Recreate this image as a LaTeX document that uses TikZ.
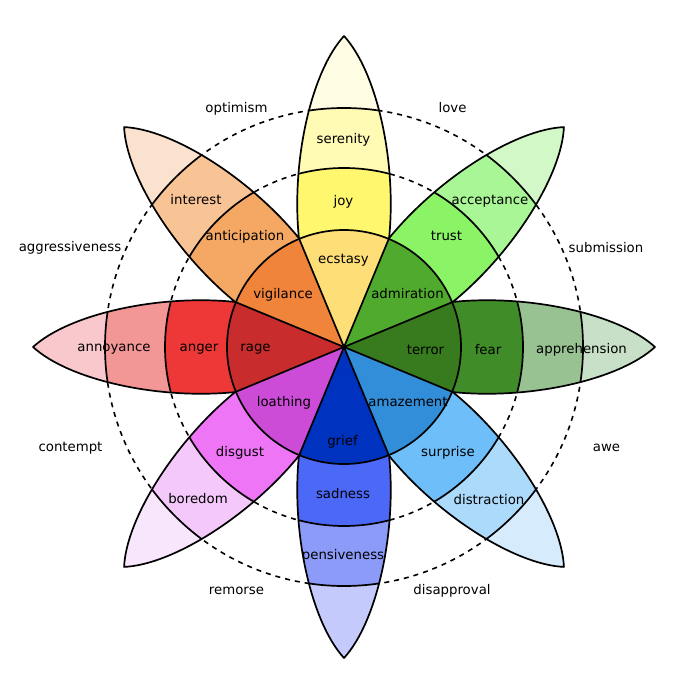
\documentclass[tikz,border=0pt]{standalone}
\usepackage{fontspec}
\setmainfont{DejaVu Sans}
\definecolor{pY}{RGB}{255,253,228}\definecolor{tY}{RGB}{255,250,180}\definecolor{sY}{RGB}{255,248,110}\definecolor{iY}{RGB}{254,222,118}
\definecolor{pG}{RGB}{210,248,200}\definecolor{tG}{RGB}{168,246,150}\definecolor{sG}{RGB}{138,244,102}\definecolor{iG}{RGB}{80,170,46}
\definecolor{pF}{RGB}{200,224,200}\definecolor{tF}{RGB}{152,194,146}\definecolor{sF}{RGB}{64,140,40}\definecolor{iF}{RGB}{56,122,30}
\definecolor{pB}{RGB}{214,236,252}\definecolor{tB}{RGB}{172,218,250}\definecolor{sB}{RGB}{110,190,250}\definecolor{iB}{RGB}{50,142,216}
\definecolor{pS}{RGB}{196,202,252}\definecolor{tS}{RGB}{140,154,248}\definecolor{sS}{RGB}{76,104,246}\definecolor{iS}{RGB}{0,50,192}
\definecolor{pD}{RGB}{248,230,252}\definecolor{tD}{RGB}{244,200,250}\definecolor{sD}{RGB}{238,118,246}\definecolor{iD}{RGB}{204,76,216}
\definecolor{pR}{RGB}{248,200,204}\definecolor{tR}{RGB}{242,150,150}\definecolor{sR}{RGB}{238,56,56}\definecolor{iR}{RGB}{200,44,44}
\definecolor{pO}{RGB}{250,226,206}\definecolor{tO}{RGB}{248,196,150}\definecolor{sO}{RGB}{244,168,100}\definecolor{iO}{RGB}{240,132,58}
\begin{document}
\begin{tikzpicture}[x=1pt,y=-1pt,
  lbl/.style={font=\fontsize{13.3}{13.3}\selectfont, inner sep=0pt, text height=7.1pt, text depth=0pt, text=black, yshift=-1.5pt},
  edge/.style={line width=1.7pt, black, line join=round},
  dashring/.style={line width=1.6pt, black, dash pattern=on 5pt off 5pt}]
\useasboundingbox (0,0) rectangle (686,696);
\coordinate (c) at (344,347);
% dashed rings
\draw[dashring] (c) circle (179);
\draw[dashring] (c) circle (239);
% petals
\foreach \a/\p/\t/\s in {90/pY/tY/sY, 45/pG/tG/sG, 0/pF/tF/sF, -45/pB/tB/sB, -90/pS/tS/sS, -135/pD/tD/sD, 180/pR/tR/sR, 135/pO/tO/sO}{
  \begin{scope}[shift={(344,347)}, rotate=\a]
    \begin{scope}
      \clip (0,0) -- (108,45) .. controls (185,53) and (275,33) .. (311,0)
            .. controls (275,-33) and (185,-53) .. (108,-45) -- cycle;
      \fill[\p] (-5,-60) rectangle (320,60);
      \fill[\t] (0,0) circle (239);
      \fill[\s] (0,0) circle (179);
      \draw[edge] (0,0) circle (179) (0,0) circle (239);
    \end{scope}
    \draw[edge] (108,45) .. controls (185,53) and (275,33) .. (311,0)
            .. controls (275,-33) and (185,-53) .. (108,-45);
  \end{scope}
}
% inner wedges
\foreach \a/\i in {90/iY, 45/iG, 0/iF, -45/iB, -90/iS, -135/iD, 180/iR, 135/iO}{
  \begin{scope}[shift={(344,347)}, rotate=\a]
    \fill[\i] (0,0) -- (-22.5:117) arc[start angle=-22.5, end angle=22.5, radius=117] -- cycle;
  \end{scope}
}
\draw[edge] (c) circle (117);
\foreach \a in {22.5,67.5,...,337.5}{
  \begin{scope}[shift={(344,347)}, rotate=\a]
    \draw[edge] (0,0) -- (117,0);
  \end{scope}
}
% labels
\node[lbl] (ecstasy) at (343.5,258) {ecstasy};
\node[lbl] (joy) at (343.5,200) {joy};
\node[lbl] (serenity) at (343.5,138) {serenity};
\node[lbl] (admiration) at (407.5,293) {admiration};
\node[lbl] (trust) at (446.5,235) {trust};
\node[lbl] (acceptance) at (490,199) {acceptance};
\node[lbl] (terror) at (425.5,349) {terror};
\node[lbl] (fear) at (488,349) {fear};
\node[lbl] (apprehension) at (581.5,348.5) {apprehension};
\node[lbl] (amazement) at (408,401.5) {amazement};
\node[lbl] (surprise) at (448,451) {surprise};
\node[lbl] (distraction) at (489,499) {distraction};
\node[lbl] (grief) at (342.5,440) {grief};
\node[lbl] (sadness) at (343,493) {sadness};
\node[lbl] (pensiveness) at (343,554) {pensiveness};
\node[lbl] (loathing) at (284,401.5) {loathing};
\node[lbl] (disgust) at (240,451) {disgust};
\node[lbl] (boredom) at (198,498) {boredom};
\node[lbl] (rage) at (255.5,346.5) {rage};
\node[lbl] (anger) at (199,346.5) {anger};
\node[lbl] (annoyance) at (114,346.5) {annoyance};
\node[lbl] (vigilance) at (283,293) {vigilance};
\node[lbl] (anticipation) at (245,235.5) {anticipation};
\node[lbl] (interest) at (196,199) {interest};
\node[lbl] (optimism) at (236.5,107) {optimism};
\node[lbl] (love) at (452.5,107) {love};
\node[lbl] (submission) at (606,247) {submission};
\node[lbl] (awe) at (606.5,446.5) {awe};
\node[lbl] (disapproval) at (452,589) {disapproval};
\node[lbl] (remorse) at (236.5,589) {remorse};
\node[lbl] (contempt) at (70.5,446.5) {contempt};
\node[lbl] (aggressiveness) at (70,246.5) {aggressiveness};
\end{tikzpicture}
\end{document}
